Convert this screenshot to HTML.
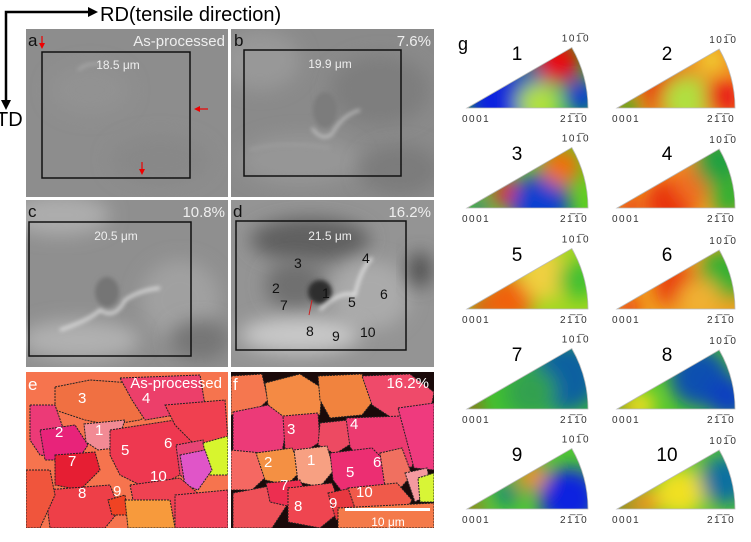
<!DOCTYPE html>
<html><head><meta charset="utf-8"><style>
html,body{margin:0;padding:0;background:#fff;}
svg{display:block;font-family:"Liberation Sans",sans-serif;}
</style></head><body>
<svg id="fig" width="751" height="542" viewBox="0 0 751 542">
<defs>
<filter id="bl" x="-50%" y="-50%" width="200%" height="200%"><feGaussianBlur stdDeviation="9"/></filter>
<filter id="bs" x="-50%" y="-50%" width="200%" height="200%"><feGaussianBlur stdDeviation="2"/></filter>
<clipPath id="cpa"><rect x="26" y="29" width="202" height="168"/></clipPath>
<clipPath id="cpb"><rect x="231" y="29" width="203" height="168"/></clipPath>
<clipPath id="cpc"><rect x="26" y="200" width="202" height="167"/></clipPath>
<clipPath id="cpd"><rect x="231" y="200" width="203" height="167"/></clipPath>
<clipPath id="cpe"><rect x="26" y="372" width="202" height="156"/></clipPath>
<clipPath id="cpf"><rect x="231" y="372" width="203" height="156"/></clipPath>
</defs>

<g>
<path d="M6,104 L6,12 L90,12" fill="none" stroke="#000" stroke-width="2.5"/>
<path d="M88,7 L98,12 L88,17 Z" fill="#000"/>
<path d="M1,100 L6,110 L11,100 Z" fill="#000"/>
<text x="100" y="21" font-size="20">RD(tensile direction)</text>
<text x="-4" y="126" font-size="20">TD</text>
</g>

<g clip-path="url(#cpa)">
<rect x="26" y="29" width="202" height="168" fill="#8d8d8d"/>
<ellipse cx="90" cy="90" rx="40" ry="25" fill="#929292" filter="url(#bl)"/>
<ellipse cx="160" cy="160" rx="50" ry="25" fill="#888" filter="url(#bl)"/>
<path d="M78,70 Q88,62 100,64" stroke="#b0b0b0" stroke-width="2" fill="none" filter="url(#bs)"/>
<rect x="42" y="52" width="148" height="126" fill="none" stroke="#111" stroke-width="1.5"/>
<text x="28" y="46" font-size="17" fill="#111">a</text>
<text x="225" y="46" font-size="15" fill="#eee" text-anchor="end">As-processed</text>
<text x="118" y="69" font-size="12" fill="#eee" text-anchor="middle">18.5 μm</text>
<path d="M42,36 L42,45" stroke="#e00" stroke-width="1.2"/><path d="M39,43 L42,49 L45,43Z" fill="#e00"/>
<path d="M208,109 L198,109" stroke="#e00" stroke-width="1.2"/><path d="M200,106 L194,109 L200,112Z" fill="#e00"/>
<path d="M142,162 L142,171" stroke="#e00" stroke-width="1.2"/><path d="M139,169 L142,175 L145,169Z" fill="#e00"/>
</g>

<g clip-path="url(#cpb)">
<rect x="231" y="29" width="203" height="168" fill="#8a8a8a"/>
<ellipse cx="260" cy="60" rx="40" ry="30" fill="#989898" filter="url(#bl)"/>
<ellipse cx="380" cy="90" rx="50" ry="35" fill="#7e7e7e" filter="url(#bl)"/>
<ellipse cx="300" cy="160" rx="60" ry="25" fill="#969696" filter="url(#bl)"/>
<ellipse cx="400" cy="170" rx="40" ry="25" fill="#7c7c7c" filter="url(#bl)"/>
<ellipse cx="325" cy="110" rx="12" ry="18" fill="#7c7c7c" filter="url(#bs)"/>
<path d="M312,128 Q322,142 332,134 Q342,115 360,110" stroke="#d8d8d8" stroke-width="1.8" fill="none" filter="url(#bs)"/>
<path d="M250,150 Q280,140 330,148" stroke="#a0a0a0" stroke-width="2" fill="none" filter="url(#bs)"/>
<rect x="244" y="50" width="157" height="126" fill="none" stroke="#111" stroke-width="1.5"/>
<text x="234" y="46" font-size="17" fill="#111">b</text>
<text x="431" y="46" font-size="15" fill="#eee" text-anchor="end">7.6%</text>
<text x="330" y="68" font-size="12" fill="#eee" text-anchor="middle">19.9 μm</text>
</g>

<g clip-path="url(#cpc)">
<rect x="26" y="200" width="202" height="167" fill="#8f8f8f"/>
<ellipse cx="60" cy="215" rx="50" ry="20" fill="#adadad" filter="url(#bl)"/>
<ellipse cx="180" cy="300" rx="40" ry="40" fill="#a0a0a0" filter="url(#bl)"/>
<ellipse cx="80" cy="340" rx="60" ry="20" fill="#b0b0b0" filter="url(#bl)"/>
<ellipse cx="200" cy="340" rx="30" ry="20" fill="#767676" filter="url(#bl)"/>
<ellipse cx="107" cy="292" rx="12" ry="15" fill="#747474" filter="url(#bs)"/>
<path d="M60,330 Q90,320 100,310 Q115,320 125,300 Q140,290 160,288" stroke="#eaeaea" stroke-width="2.5" fill="none" filter="url(#bs)"/>
<rect x="29" y="222" width="162" height="134" fill="none" stroke="#111" stroke-width="1.5"/>
<text x="28" y="217" font-size="17" fill="#111">c</text>
<text x="225" y="217" font-size="15" fill="#eee" text-anchor="end">10.8%</text>
<text x="116" y="240" font-size="12" fill="#eee" text-anchor="middle">20.5 μm</text>
</g>

<g clip-path="url(#cpd)">
<rect x="231" y="200" width="203" height="167" fill="#949494"/>
<ellipse cx="310" cy="240" rx="60" ry="22" fill="#606060" filter="url(#bl)"/>
<ellipse cx="295" cy="285" rx="30" ry="25" fill="#707070" filter="url(#bl)"/>
<ellipse cx="370" cy="295" rx="40" ry="35" fill="#aaaaaa" filter="url(#bl)"/>
<ellipse cx="300" cy="335" rx="60" ry="18" fill="#c8c8c8" filter="url(#bl)"/>
<ellipse cx="420" cy="270" rx="12" ry="18" fill="#505050" filter="url(#bl)"/>
<ellipse cx="320" cy="292" rx="12" ry="12" fill="#2e2e2e" filter="url(#bs)"/>
<path d="M320,310 Q340,290 355,295 Q360,270 372,258" stroke="#eeeeee" stroke-width="2.5" fill="none" filter="url(#bs)"/>
<path d="M309,315 L312,300" stroke="#c22" stroke-width="1"/>
<rect x="236" y="221" width="170" height="129" fill="none" stroke="#111" stroke-width="1.5"/>
<text x="233" y="217" font-size="17" fill="#111">d</text>
<text x="431" y="217" font-size="15" fill="#eee" text-anchor="end">16.2%</text>
<text x="330" y="240" font-size="12" fill="#eee" text-anchor="middle">21.5 μm</text>
<g font-size="14" fill="#111">
<text x="294" y="268">3</text><text x="362" y="263">4</text><text x="272" y="293">2</text>
<text x="322" y="298">1</text><text x="280" y="310">7</text><text x="348" y="307">5</text>
<text x="380" y="299">6</text><text x="306" y="336">8</text><text x="332" y="341">9</text><text x="360" y="337">10</text>
</g>
</g>

<g clip-path="url(#cpe)" stroke="#222" stroke-width="1" stroke-dasharray="2,1">
<rect x="26" y="372" width="202" height="156" fill="#f6744e" stroke="none"/>
<polygon points="55,387 90,380 160,385 165,405 140,420 110,425 85,420 55,410" fill="#f07042"/>
<polygon points="120,378 200,375 205,405 175,415 145,420 132,400" fill="#ec3f6a"/>
<polygon points="30,405 55,405 62,425 78,440 70,460 40,455 30,440" fill="#ec3a77"/>
<polygon points="40,430 75,425 88,445 78,460 45,460" fill="#e8237a"/>
<polygon points="84,424 125,420 115,448 98,450 86,442" fill="#f28a94"/>
<polygon points="110,430 175,420 195,445 180,475 150,490 120,475 110,455" fill="#ee3850"/>
<polygon points="165,405 225,400 228,440 195,445 175,425" fill="#f04050"/>
<polygon points="176,445 203,440 208,470 193,485 180,475" fill="#e74575"/>
<polygon points="203,443 228,436 228,475 210,475" fill="#d7f52e"/>
<polygon points="180,455 205,450 212,470 198,490 185,485" fill="#e055c8"/>
<polygon points="55,455 95,452 100,470 80,490 55,485" fill="#e61e33"/>
<polygon points="45,490 110,485 120,510 105,528 50,528" fill="#ee3f48"/>
<polygon points="108,500 125,495 128,515 112,515" fill="#f04323"/>
<polygon points="130,485 180,478 200,495 195,515 160,520 135,510" fill="#ef4252"/>
<polygon points="125,500 170,500 175,528 128,528" fill="#f79a3c"/>
<polygon points="175,495 228,490 228,528 175,528" fill="#f0435a"/>
<polygon points="26,470 50,470 55,495 40,528 26,528" fill="#f0553c"/>
</g>
<g font-size="15" fill="#fff">
<text x="28" y="390" font-size="17">e</text>
<text x="222" y="388" text-anchor="end">As-processed</text>
<text x="78" y="403">3</text><text x="142" y="403">4</text><text x="55" y="437">2</text>
<text x="95" y="435">1</text><text x="121" y="455">5</text><text x="164" y="448">6</text>
<text x="68" y="466">7</text><text x="150" y="481">10</text><text x="113" y="496">9</text><text x="78" y="498">8</text>
</g>

<g clip-path="url(#cpf)" stroke="#222" stroke-width="1" stroke-dasharray="2,1">
<rect x="231" y="372" width="203" height="156" fill="#1a0a0a" stroke="none"/>
<polygon points="231,376 262,374 268,400 252,415 231,415" fill="#f5774f"/>
<polygon points="265,383 300,374 322,388 320,415 285,420 268,405" fill="#f48a44"/>
<polygon points="318,376 362,374 374,400 362,415 330,418 320,400" fill="#f1833e"/>
<polygon points="362,376 410,374 434,392 430,415 395,420 372,405" fill="#ef4a6a"/>
<polygon points="233,412 268,405 288,420 282,452 260,460 233,455" fill="#ec3a78"/>
<polygon points="283,416 318,413 320,442 300,455 285,450" fill="#ea3a64"/>
<polygon points="320,423 348,420 354,442 335,454 318,445" fill="#ed4a62"/>
<polygon points="346,418 402,416 420,440 412,467 370,472 350,447" fill="#ec3a70"/>
<polygon points="398,408 434,403 434,470 414,468" fill="#ef3a7e"/>
<polygon points="231,450 262,453 268,475 252,490 231,490" fill="#f56862"/>
<polygon points="256,453 292,448 302,470 287,485 265,480" fill="#f49043"/>
<polygon points="294,450 327,446 334,470 320,487 298,482" fill="#f7a082"/>
<polygon points="330,453 372,448 392,468 382,497 350,502 333,480" fill="#ec2e72"/>
<polygon points="380,453 402,448 412,475 397,492 385,487" fill="#f07060"/>
<polygon points="405,473 427,468 432,492 415,502" fill="#f49aa0"/>
<polygon points="418,478 434,473 434,502 420,502" fill="#d8f536"/>
<polygon points="233,493 270,486 287,505 272,528 233,528" fill="#ef5058"/>
<polygon points="266,483 300,480 307,495 292,507 270,502" fill="#ed2e50"/>
<polygon points="288,488 332,483 342,510 320,528 288,522" fill="#ef4550"/>
<polygon points="328,493 352,488 357,517 336,520" fill="#e73840"/>
<polygon points="348,488 397,483 412,500 402,517 358,517" fill="#f05a4a"/>
<polygon points="338,508 434,503 434,528 338,528" fill="#f47a4a"/>
</g>
<g font-size="15" fill="#fff">
<text x="233" y="390" font-size="17">f</text>
<text x="429" y="388" text-anchor="end">16.2%</text>
<text x="287" y="434">3</text><text x="350" y="429">4</text><text x="264" y="467">2</text>
<text x="307" y="465">1</text><text x="346" y="477">5</text><text x="373" y="467">6</text>
<text x="280" y="490">7</text><text x="294" y="511">8</text><text x="329" y="508">9</text><text x="356" y="497">10</text>
<rect x="345" y="508" width="85" height="3" fill="#fff"/>
<text x="388" y="526" text-anchor="middle" font-size="12">10 μm</text>
</g>

<g id="ipf">
<text x="458" y="50" font-size="18" fill="#000">g</text>
</g>
</svg>
<script>
const grainIds = [1,2,3,4,5,6,7,8,9,10];
const baseColors = ["#22c020","#f08a20","#60d020","#f0a020","#a0d820","#f0a020","#40c030","#50c828","#50c830","#60c830"];
const blobs = [
 [[0.3,0.4,35,"#1020e0"],[0.55,0.5,25,"#2040c0"],[0.85,0.9,22,"#e81010"],[0.6,0.1,22,"#b0e040"],[0.95,0.2,18,"#1040d0"]],
 [[0.1,0.2,12,"#20b020"],[0.45,0.7,25,"#e83010"],[0.6,0.2,25,"#b0e040"],[0.9,0.2,18,"#e81818"],[0.9,0.9,14,"#f0d030"]],
 [[0.35,0.7,14,"#e82010"],[0.6,0.1,30,"#1040d0"],[0.85,0.8,20,"#f07010"],[0.1,0.1,8,"#1040d0"]],
 [[0.1,0.2,10,"#e82010"],[0.45,0.2,25,"#e83010"],[0.7,0.6,22,"#f07020"],[0.95,0.8,25,"#20a040"],[0.95,0.2,20,"#30b030"]],
 [[0.1,0.2,10,"#e82010"],[0.35,0.4,25,"#f06010"],[0.7,0.8,25,"#f0d040"],[0.95,0.5,20,"#40c030"]],
 [[0.1,0.2,10,"#e82010"],[0.55,0.7,22,"#e83010"],[0.95,0.6,25,"#30b030"],[0.7,0.2,22,"#f0b030"]],
 [[0.05,0.2,8,"#e82010"],[0.85,0.6,35,"#1060a0"],[0.55,0.5,25,"#30a050"]],
 [[0.08,0.2,10,"#e83010"],[0.2,0.3,15,"#f0e020"],[0.75,0.7,30,"#1050b0"],[0.95,0.2,22,"#1040c0"]],
 [[0.05,0.2,8,"#e83010"],[0.6,0.9,15,"#f09020"],[0.85,0.2,30,"#1020e0"],[0.35,0.7,12,"#108080"]],
 [[0.05,0.2,8,"#e83010"],[0.25,0.4,15,"#f09020"],[0.55,0.5,25,"#f0e020"],[0.95,0.5,25,"#1070a0"]]
];
const NS="http://www.w3.org/2000/svg";
const g=document.getElementById("ipf");
const colX=[467,617], colR=[121,118], rowY=[108,208,309,409,509];
function mk(t,a){const e=document.createElementNS(NS,t);for(const k in a)e.setAttribute(k,a[k]);return e;}
grainIds.forEach((id,i)=>{
 const c=i%2, r=Math.floor(i/2);
 const ax=colX[c], ay=rowY[r], R=colR[c], A=Math.PI/6;
 const tx=ax+R*Math.cos(A), ty=ay-R*Math.sin(A);
 const d=`M${ax},${ay} L${ax+R},${ay} A${R},${R} 0 0 0 ${tx},${ty} Z`;
 const grp=mk("g",{});
 
 
 const cp=mk("clipPath",{id:"ipfc"+id}); cp.appendChild(mk("path",{d}));
 grp.appendChild(cp);
 const inner=mk("g",{"clip-path":`url(#ipfc${id})`});
 inner.appendChild(mk("rect",{x:ax-5,y:ay-R,width:R+10,height:R,fill:baseColors[i]}));
 const bg=mk("g",{filter:"url(#bl)"});
 blobs[i].forEach(b=>{
  const ang=b[1]*A, rr=b[0]*R;
  const blob=mk("circle",{cx:ax+rr*Math.cos(ang),cy:ay-rr*Math.sin(ang),r:b[2],fill:b[3]});
  
  
  bg.appendChild(blob);
 });
 inner.appendChild(bg); grp.appendChild(inner);
 grp.appendChild(mk("path",{d,fill:"none",stroke:"#bbb","stroke-width":0.8}));
 const num=mk("text",{x:ax+50,y:ay-48,"font-size":19,"text-anchor":"middle"}); num.textContent=id;
 
 
 grp.appendChild(num);
 const l1=mk("text",{x:ax-5,y:ay+14,"font-size":10,fill:"#333","letter-spacing":"1.5"}); l1.textContent="0001";
 
 
 const l2=mk("text",{x:ax+R-28,y:ay+14,"font-size":10,fill:"#333","letter-spacing":"1.5"}); l2.textContent="21\u03051\u03050";
 
 
 const l3=mk("text",{x:tx-10,y:ty-6,"font-size":10,fill:"#333","letter-spacing":"1.5"}); l3.textContent="101\u03050";
 
 
 grp.appendChild(l1);grp.appendChild(l2);grp.appendChild(l3);
 g.appendChild(grp);
});
</script>
</body></html>
